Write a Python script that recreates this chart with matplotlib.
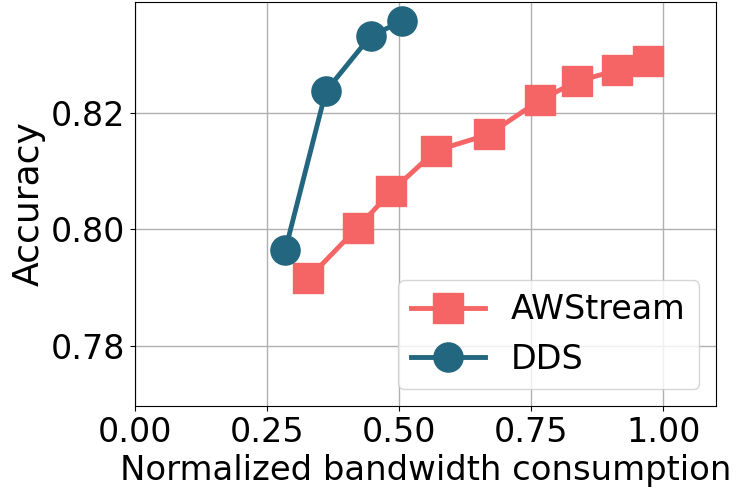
import numpy as np
import matplotlib
matplotlib.use('Agg')
import matplotlib.pyplot as plt

# normalized bandwidth vs. accuracy for each method
aw_bw = [0.328, 0.421, 0.485, 0.569, 0.670, 0.767, 0.837, 0.913, 0.972]
aw_acc = [0.7916, 0.8003, 0.8065, 0.8135, 0.8163, 0.8222, 0.8254, 0.8273, 0.8289]
dds_bw = [0.284, 0.361, 0.446, 0.506]
dds_acc = [0.7964, 0.8237, 0.8332, 0.8357]

aw_color = '#F66565'
dds_color = '#22667F'

plt.rcParams['font.size'] = 24

fig = plt.figure(figsize=(7.36, 4.9), dpi=100)
ax = fig.add_axes([0.1838, 0.1714, 0.789, 0.8245])

ax.plot(aw_bw, aw_acc, marker='s', markersize=21, linewidth=3.5,
        color=aw_color, label='AWStream')
ax.plot(dds_bw, dds_acc, marker='o', markersize=21, linewidth=3.5,
        color=dds_color, label='DDS')

ax.set_xlim(0, 1.1)
ax.set_ylim(0.7697, 0.839)
ax.set_xticks([0.0, 0.25, 0.5, 0.75, 1.0])
ax.set_yticks([0.78, 0.80, 0.82])
ax.xaxis.set_major_formatter(matplotlib.ticker.FormatStrFormatter('%.2f'))
ax.yaxis.set_major_formatter(matplotlib.ticker.FormatStrFormatter('%.2f'))
ax.tick_params(labelsize=24)
ax.grid(True, color='#b0b0b0', linewidth=1)
ax.set_axisbelow(True)

ax.set_xlabel('Normalized bandwidth consumption', fontsize=24.4)
ax.set_ylabel('Accuracy', fontsize=26)
ax.legend(loc='lower right', fontsize=24, handlelength=2.2)

plt.savefig('out.png', dpi=100)
